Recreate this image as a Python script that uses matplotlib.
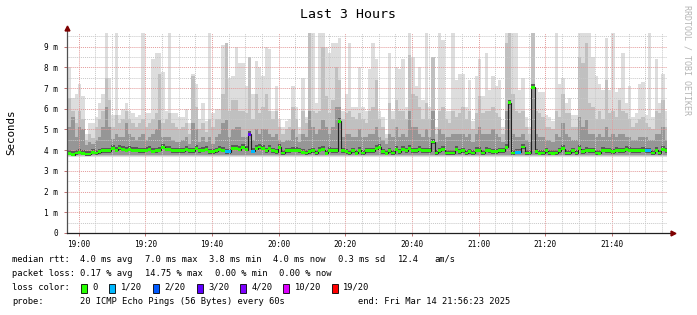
import numpy as np
import matplotlib
matplotlib.use('Agg')
import matplotlib.pyplot as plt
from matplotlib.patches import Rectangle

# one column per minute, values in ms
rttMax = [8.0, 6.5, 6.7, 7.2, 6.6, 4.8, 5.3, 5.3, 5.6, 6.3, 6.7, 9.7, 7.5, 5.7, 9.7, 5.7, 6.0, 6.3, 5.9, 5.8,
          5.6, 5.7, 9.7, 5.8, 5.8, 8.4, 8.7, 8.7, 7.8, 5.9,
          9.7, 5.8, 5.8, 5.6, 5.6, 6.0, 5.3, 7.7, 7.2, 5.5, 6.3, 5.4, 9.7, 5.8, 6.0, 6.0, 9.1, 9.2, 7.5, 7.6,
          9.0, 8.2, 8.2, 7.1, 8.5, 6.7, 8.3, 8.0, 7.6, 9.0,
          8.9, 5.9, 7.1, 5.5, 5.1, 5.4, 5.5, 7.1, 6.1, 5.1, 7.5, 5.6, 9.7, 9.7, 6.3, 9.7, 9.7, 9.0, 8.7, 9.2,
          9.2, 9.4, 5.9, 6.7, 9.2, 6.1, 6.1, 8.0, 6.1, 5.9,
          7.9, 9.2, 8.4, 5.9, 5.6, 4.8, 8.7, 5.9, 8.0, 7.9, 8.4, 6.1, 9.7, 8.5, 7.1, 8.0, 6.4, 9.7, 6.1, 8.5,
          5.1, 9.7, 9.3, 5.9, 5.9, 9.7, 7.4, 7.7, 7.7, 6.1,
          7.4, 5.4, 7.6, 8.4, 6.6, 8.7, 6.9, 7.6, 7.1, 7.4, 5.1, 9.7, 9.7, 9.7, 9.7, 6.9, 7.5, 5.6, 5.1, 9.7,
          7.0, 6.8, 6.8, 5.7, 5.6, 5.4, 9.7, 7.2, 7.5, 6.3,
          6.5, 5.7, 5.7, 9.7, 9.7, 9.7, 9.7, 8.5, 7.6, 7.2, 6.9, 9.4, 6.9, 9.7, 6.8, 7.0, 8.7, 6.3, 7.1, 5.6,
          5.8, 7.2, 7.3, 5.7, 9.7, 5.6, 8.4, 6.3, 7.7, 5.9]
rttUpper = [6.5, 5.9, 5.3, 5.9, 5.5, 4.5, 4.8, 4.6, 5.1, 5.5, 5.9, 7.5, 6.4, 5.1, 5.7, 5.3, 5.5, 5.9, 5.5, 5.3,
            5.1, 5.3, 5.5, 5.1, 5.3, 5.5, 5.8, 7.7, 5.3, 5.5,
            5.8, 5.3, 5.1, 5.0, 5.1, 5.3, 4.8, 7.6, 6.1, 5.0, 5.3, 4.9, 5.5, 5.1, 5.5, 5.5, 6.7, 9.2, 5.9, 6.4,
            6.4, 5.9, 5.9, 5.8, 8.5, 5.5, 6.7, 5.8, 6.1, 6.7,
            5.9, 5.5, 5.9, 5.1, 4.8, 5.0, 5.1, 6.1, 5.5, 4.8, 5.9, 5.3, 9.7, 5.9, 5.8, 5.9, 9.0, 6.6, 5.8, 6.4,
            8.0, 7.4, 5.5, 5.8, 5.9, 5.6, 5.5, 5.8, 5.5, 5.3,
            5.9, 6.1, 7.4, 5.5, 5.1, 4.6, 6.3, 5.5, 6.4, 5.9, 5.9, 5.5, 8.6, 6.7, 6.6, 6.1, 5.5, 6.3, 5.5, 8.5,
            4.8, 5.9, 6.1, 5.5, 5.3, 5.9, 5.6, 5.8, 6.1, 5.5,
            5.9, 5.0, 5.8, 6.6, 5.8, 5.9, 5.9, 6.1, 5.8, 5.6, 4.8, 9.2, 9.7, 6.7, 5.9, 5.8, 5.9, 5.1, 4.8, 9.7,
            5.9, 5.8, 5.6, 5.1, 5.1, 5.0, 5.9, 5.6, 6.7, 5.8,
            5.8, 5.1, 5.1, 8.5, 8.2, 9.2, 6.3, 6.1, 5.5, 5.9, 5.5, 7.4, 5.8, 5.9, 5.6, 6.4, 5.9, 5.8, 5.5, 5.1,
            5.3, 5.5, 5.6, 5.3, 5.1, 5.0, 5.9, 5.8, 6.4, 5.1]
rttInner = [5.1, 5.6, 4.65, 5.1, 5.0, 4.25, 4.4, 4.3, 4.5, 4.65, 5.1, 6.1, 5.1, 4.55, 4.8, 4.65, 4.65, 5.3, 4.8, 4.65,
            4.5, 4.65, 4.8, 4.5, 4.65, 4.8, 5.0, 5.45, 4.65, 4.65,
            4.65, 4.5, 4.4, 4.4, 4.5, 4.65, 4.3, 5.3, 5.0, 4.4, 4.65, 4.4, 4.65, 4.3, 4.65, 4.8, 5.3, 5.45, 4.65, 5.0,
            5.1, 5.1, 4.65, 4.65, 4.8, 4.5, 5.0, 4.8, 5.0, 5.0,
            4.8, 4.65, 4.8, 4.5, 4.4, 4.5, 4.5, 5.0, 4.65, 4.4, 4.8, 4.65, 5.9, 5.1, 4.8, 5.0, 5.45, 5.1, 4.8, 5.1,
            6.1, 6.1, 4.65, 4.8, 4.8, 4.65, 4.65, 5.0, 4.65, 4.65,
            4.8, 4.8, 5.1, 4.65, 4.5, 4.3, 4.8, 4.65, 5.1, 4.65, 4.8, 4.65, 5.9, 5.1, 5.1, 4.8, 4.65, 5.0, 4.65, 5.9,
            4.4, 5.0, 4.8, 4.65, 4.65, 4.8, 4.8, 4.8, 4.8, 4.65,
            4.8, 4.4, 4.8, 5.1, 4.8, 4.8, 4.8, 5.0, 4.8, 4.65, 4.4, 5.9, 6.3, 4.8, 4.65, 4.65, 4.8, 4.5, 4.4, 7.0,
            4.8, 4.65, 4.65, 4.5, 4.5, 4.4, 4.8, 4.65, 5.3, 4.8,
            4.65, 4.5, 4.5, 5.6, 5.1, 5.45, 4.8, 4.8, 4.65, 4.8, 4.65, 5.1, 4.65, 4.8, 4.65, 4.8, 4.8, 4.65, 4.65, 4.5,
            4.5, 4.65, 4.65, 4.65, 4.5, 4.5, 4.8, 4.8, 5.1, 4.5]
rttMedian = [3.84, 3.79, 3.87, 3.89, 3.84, 3.82, 3.81, 3.89, 3.87, 3.92, 3.97, 3.97, 3.97, 4.08, 4.0, 4.11, 4.03, 4.0, 4.03, 4.0,
             4.0, 3.97, 3.97, 4.0, 4.03, 3.94, 3.97, 4.0, 4.13, 4.03,
             4.03, 3.97, 3.97, 3.97, 3.97, 4.03, 3.97, 3.97, 4.08, 3.97, 4.0, 4.03, 3.92, 3.92, 3.97, 4.03, 4.0, 3.92, 3.92, 4.08,
             4.08, 4.03, 4.13, 4.03, 4.77, 3.95, 4.08, 4.16, 4.08, 3.97,
             4.08, 3.97, 3.92, 4.13, 3.87, 3.97, 3.97, 4.0, 4.0, 3.97, 3.9, 3.87, 3.92, 3.97, 3.87, 4.0, 4.03, 3.84, 4.0, 3.97,
             3.97, 5.4, 3.97, 3.92, 3.87, 3.97, 3.84, 4.0, 3.87, 3.97,
             3.97, 3.97, 4.08, 4.13, 3.92, 3.84, 3.97, 3.87, 4.03, 3.92, 4.03, 3.97, 4.08, 3.97, 3.97, 4.03, 3.97, 3.97, 3.97, 4.4,
             3.87, 3.97, 4.03, 3.87, 3.87, 3.87, 4.03, 3.92, 3.97, 3.87,
             3.92, 3.87, 4.0, 4.0, 3.87, 4.0, 3.97, 3.92, 3.92, 3.97, 3.97, 4.13, 6.29, 3.87, 3.9, 3.9, 4.16, 3.87, 3.87, 7.03,
             3.92, 3.84, 3.87, 3.97, 3.87, 3.84, 3.87, 3.97, 4.08, 3.87,
             3.87, 3.97, 3.87, 4.08, 3.92, 4.0, 3.97, 3.97, 3.87, 3.84, 4.0, 3.97, 3.97, 3.92, 4.0, 3.97, 3.97, 4.03, 4.0, 3.97,
             3.97, 3.97, 4.0, 3.97, 3.97, 3.87, 4.0, 3.87, 4.03, 3.97]
# lost pings (of 20) for the columns that had any
lostPings = {47: 1, 48: 1, 54: 3, 55: 1, 134: 1, 135: 1, 173: 1, 174: 1}

lossLevels = [0, 1, 2, 3, 4, 10, 19]
lossLabels = ['0', '1/20', '2/20', '3/20', '4/20', '10/20', '19/20']
lossColors = ['#26ff00', '#00b8ff', '#0059ff', '#5e00ff', '#7e00ff', '#dd00ff', '#ff0000']

startTime = '18:56:23'
timeTicks = ['19:00', '19:20', '19:40', '20:00', '20:20', '20:40', '21:00', '21:20', '21:40']
yTicks = [0, 1, 2, 3, 4, 5, 6, 7, 8, 9]
yTickLabels = ['0', '1 m', '2 m', '3 m', '4 m', '5 m', '6 m', '7 m', '8 m', '9 m']

statRows = [
    ('median rtt:', ['4.0 ms avg', '7.0 ms max', '3.8 ms min', '4.0 ms now', '0.3 ms sd', '12.4', 'am/s']),
    ('packet loss:', ['0.17 % avg', '14.75 % max', '0.00 % min', '0.00 % now']),
]
probeText = '20 ICMP Echo Pings (56 Bytes) every 60s'
endText = 'end: Fri Mar 14 21:56:23 2025'


def toMinutes(s):
    parts = [int(p) for p in s.split(':')]
    while len(parts) < 3:
        parts.append(0)
    return parts[0] * 60 + parts[1] + parts[2] / 60.0


W, H = 697, 315
plt.rcParams['font.family'] = 'DejaVu Sans Mono'

fig = plt.figure(figsize=(W / 100, H / 100), dpi=100)
fig.patch.set_facecolor('white')
ax = fig.add_axes([66.7 / W, 1 - 233 / H, 600 / W, 200 / H])
ax.set_facecolor('white')

t0 = toMinutes(startTime)
nCol = len(rttMedian)
edges = np.arange(nCol + 1) + 0.4
edges[0] = 0
med = np.array(rttMedian)

# smoke
ax.stairs(rttMax, edges, baseline=3.65, fill=True, color='#dddddd', lw=0, zorder=1)
ax.stairs(rttUpper, edges, baseline=3.71, fill=True, color='#c0c0c0', lw=0, zorder=1.1)
ax.stairs(rttInner, edges, baseline=3.77, fill=True, color='#969696', lw=0, zorder=1.2)
ax.stairs(med + 0.15, edges, baseline=med - 0.09, fill=True, color='#5a5a5a', lw=0, zorder=1.3)

# median line and loss-coloured median boxes
ax.stairs(med, edges, baseline=None, color='#202020', lw=0.8, zorder=3)
colColors = []
for i in range(nCol):
    lost = lostPings.get(i, 0)
    idx = max(k for k, lv in enumerate(lossLevels) if lost >= lv)
    colColors.append(lossColors[idx])
ax.bar(edges[:-1], 0.13, width=np.diff(edges), bottom=med - 0.065, align='edge',
       color=colColors, lw=0, zorder=3.5)

ax.set_xlim(0, 180)
ax.set_ylim(0, 9.66)
for s in ax.spines.values():
    s.set_visible(False)

xMajor = [toMinutes(t) - t0 for t in timeTicks]
xMinor = np.arange(xMajor[0], 180, 5)
ax.set_xticks(xMajor)
ax.set_xticklabels(timeTicks)
ax.set_xticks(xMinor, minor=True)
ax.set_yticks(yTicks)
ax.set_yticklabels(yTickLabels)
ax.set_yticks(np.arange(0, 9.6, 0.5), minor=True)

ax.set_axisbelow(False)
ax.grid(which='major', color='#e39a9a', ls=(0, (1, 1)), lw=0.7, zorder=2.5)
ax.grid(which='minor', color='#c8c8c8', ls=(0, (1, 1)), lw=0.7, zorder=2.4)
ax.tick_params(which='major', length=2.5, width=0.7, color='#c07070', labelsize=5.6, pad=2.5)
ax.tick_params(which='minor', length=0)
ax.tick_params(axis='y', pad=3.5)

# axis lines with arrows
ax.plot([0, 0], [0, 9.85], color='#505050', lw=0.9, clip_on=False, zorder=4)
ax.plot([0, 181.5], [0, 0], color='#202020', lw=0.9, clip_on=False, zorder=4)
ax.plot([0], [9.9], marker='^', color='#7f0000', ms=3.5, clip_on=False, zorder=5)
ax.plot([181.8], [0], marker='>', color='#7f0000', ms=3.5, clip_on=False, zorder=5)

fig.text(348 / W, 1 - 14 / H, 'Last 3 Hours', ha='center', va='center', fontsize=9.5)
fig.text(11 / W, 1 - 132 / H, 'Seconds', rotation=90, ha='center', va='center', fontsize=7.8)
fig.text(687 / W, 1 - 60 / H, 'RRDTOOL / TOBI OETIKER', rotation=270, ha='center', va='center',
         fontsize=6, color='#b4b4b4')

# legend block
legendX = [80.3, 145, 209.3, 273.3, 338.3, 397.7, 434.3]
lossX = [80.3, 145, 215, 279.3]
rowY = [259.3, 273.3, 287.3, 301.3]
fs = 6.3
for (label, items), y, xs in zip(statRows, rowY, [legendX, lossX]):
    fig.text(12 / W, 1 - y / H, label, va='center', fontsize=fs)
    for x, txt in zip(xs, items):
        fig.text(x / W, 1 - y / H, txt, va='center', fontsize=fs)

boxX = [81, 109, 153.3, 196.7, 240, 283.3, 331.7]
fig.text(12 / W, 1 - rowY[2] / H, 'loss color:', va='center', fontsize=fs)
for bx, c, lab in zip(boxX, lossColors, lossLabels):
    fig.add_artist(Rectangle((bx / W, 1 - 292.5 / H), 6 / W, 9 / H, transform=fig.transFigure,
                             facecolor=c, edgecolor='black', lw=0.6))
    fig.text((bx + 11.5) / W, 1 - rowY[2] / H, lab, va='center', fontsize=fs)

fig.text(12 / W, 1 - rowY[3] / H, 'probe:', va='center', fontsize=fs)
fig.text(80.3 / W, 1 - rowY[3] / H, probeText, va='center', fontsize=fs)
fig.text(510 / W, 1 - rowY[3] / H, endText, ha='right', va='center', fontsize=fs)

fig.savefig('out.png', dpi=100)
